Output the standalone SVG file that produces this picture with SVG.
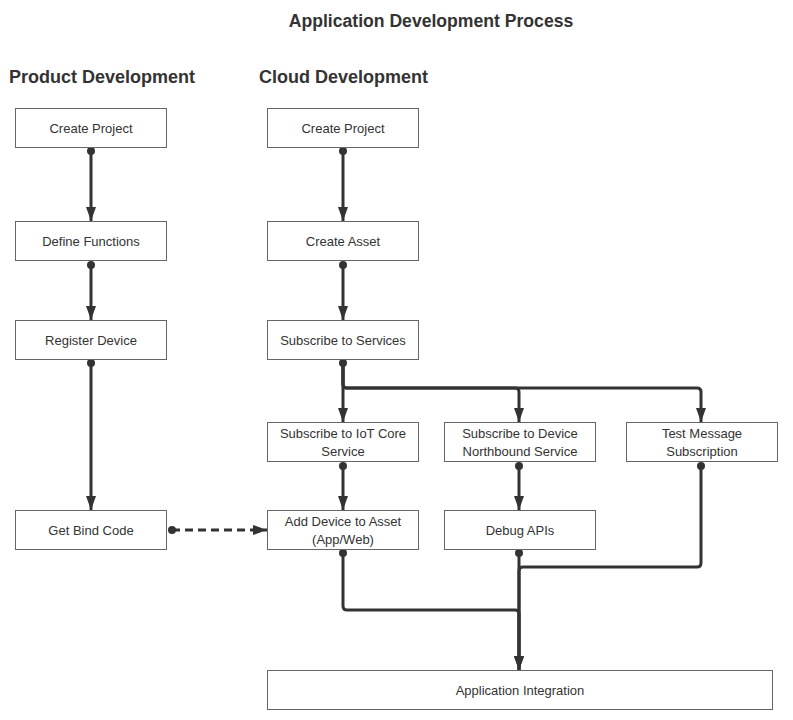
<svg xmlns="http://www.w3.org/2000/svg" width="793" height="720" viewBox="0 0 793 720">
<defs>
<style>
.box{fill:#fff;stroke:#666;stroke-width:1}
.t{font-family:"Liberation Sans",Arial,sans-serif;font-size:13px;fill:#333;text-anchor:middle}
.h{font-family:"Liberation Sans",Arial,sans-serif;font-weight:bold;fill:#333}
.c{fill:none;stroke:#333;stroke-width:3;stroke-linejoin:round}
.d{stroke-dasharray:8 5}
</style>
<marker id="ah" viewBox="0 0 14 10" refX="14" refY="5" markerWidth="14" markerHeight="10" markerUnits="userSpaceOnUse" orient="auto"><path d="M0,0L14,5L0,10Z" fill="#333"/></marker>
<marker id="dot" viewBox="0 0 8 8" refX="4" refY="4" markerWidth="8" markerHeight="8" markerUnits="userSpaceOnUse"><circle cx="4" cy="4" r="4" fill="#333"/></marker>
</defs>
<rect width="793" height="720" fill="#fff"/>
<text class="h" x="431" y="27" font-size="17.6" text-anchor="middle">Application Development Process</text>
<text class="h" x="9" y="83" font-size="18">Product Development</text>
<text class="h" x="259" y="83" font-size="18">Cloud Development</text>

<g id="connectors">
<path class="c" d="M91,151V221" marker-start="url(#dot)" marker-end="url(#ah)"/>
<path class="c" d="M91,265V320" marker-start="url(#dot)" marker-end="url(#ah)"/>
<path class="c" d="M91,363V510" marker-start="url(#dot)" marker-end="url(#ah)"/>
<path class="c" d="M343,151V221" marker-start="url(#dot)" marker-end="url(#ah)"/>
<path class="c" d="M343,265V320" marker-start="url(#dot)" marker-end="url(#ah)"/>
<path class="c" d="M343,363V422" marker-start="url(#dot)" marker-end="url(#ah)"/>
<path class="c" d="M343,363V384Q343,388 347,388H515Q519,388 519,392V422" marker-end="url(#ah)"/>
<path class="c" d="M343,363V384Q343,388 347,388H697Q701,388 701,392V422" marker-end="url(#ah)"/>
<path class="c" d="M343,466V510" marker-start="url(#dot)" marker-end="url(#ah)"/>
<path class="c" d="M519,466V510" marker-start="url(#dot)" marker-end="url(#ah)"/>
<path class="c d" d="M172,530H267" marker-start="url(#dot)" marker-end="url(#ah)"/>
<path class="c" d="M519,553V670" marker-start="url(#dot)" marker-end="url(#ah)"/>
<path class="c" d="M701,466V563Q701,567 697,567H523Q519,567 519,571V670" marker-start="url(#dot)" marker-end="url(#ah)"/>
<path class="c" d="M343,553V606Q343,610 347,610H515Q519,610 519,614V670" marker-start="url(#dot)" marker-end="url(#ah)"/>
</g>

<g id="p-create-project"><rect class="box" x="15.5" y="108.5" width="151" height="39"/><text class="t" x="91" y="133">Create Project</text></g>
<g id="p-define-functions"><rect class="box" x="15.5" y="221.5" width="151" height="39"/><text class="t" x="91" y="246">Define Functions</text></g>
<g id="p-register-device"><rect class="box" x="15.5" y="320.5" width="151" height="39"/><text class="t" x="91" y="345">Register Device</text></g>
<g id="p-get-bind-code"><rect class="box" x="15.5" y="510.5" width="151" height="39"/><text class="t" x="91" y="535">Get Bind Code</text></g>

<g id="c-create-project"><rect class="box" x="267.5" y="108.5" width="151" height="39"/><text class="t" x="343" y="133">Create Project</text></g>
<g id="c-create-asset"><rect class="box" x="267.5" y="221.5" width="151" height="39"/><text class="t" x="343" y="246">Create Asset</text></g>
<g id="c-subscribe-services"><rect class="box" x="267.5" y="320.5" width="151" height="39"/><text class="t" x="343" y="345">Subscribe to Services</text></g>
<g id="c-subscribe-iot"><rect class="box" x="267.5" y="422.5" width="151" height="39"/><text class="t" x="343" y="438">Subscribe to IoT Core</text><text class="t" x="343" y="456">Service</text></g>
<g id="c-add-device"><rect class="box" x="267.5" y="510.5" width="151" height="39"/><text class="t" x="343" y="526">Add Device to Asset</text><text class="t" x="343" y="544">(App/Web)</text></g>
<g id="c-subscribe-northbound"><rect class="box" x="444.5" y="422.5" width="151" height="39"/><text class="t" x="520" y="438">Subscribe to Device</text><text class="t" x="520" y="456">Northbound Service</text></g>
<g id="c-debug-apis"><rect class="box" x="444.5" y="510.5" width="151" height="39"/><text class="t" x="520" y="535">Debug APIs</text></g>
<g id="c-test-message"><rect class="box" x="626.5" y="422.5" width="151" height="39"/><text class="t" x="702" y="438">Test Message</text><text class="t" x="702" y="456">Subscription</text></g>
<g id="app-integration"><rect class="box" x="267.5" y="670.5" width="505" height="39"/><text class="t" x="520" y="695">Application Integration</text></g>
</svg>
